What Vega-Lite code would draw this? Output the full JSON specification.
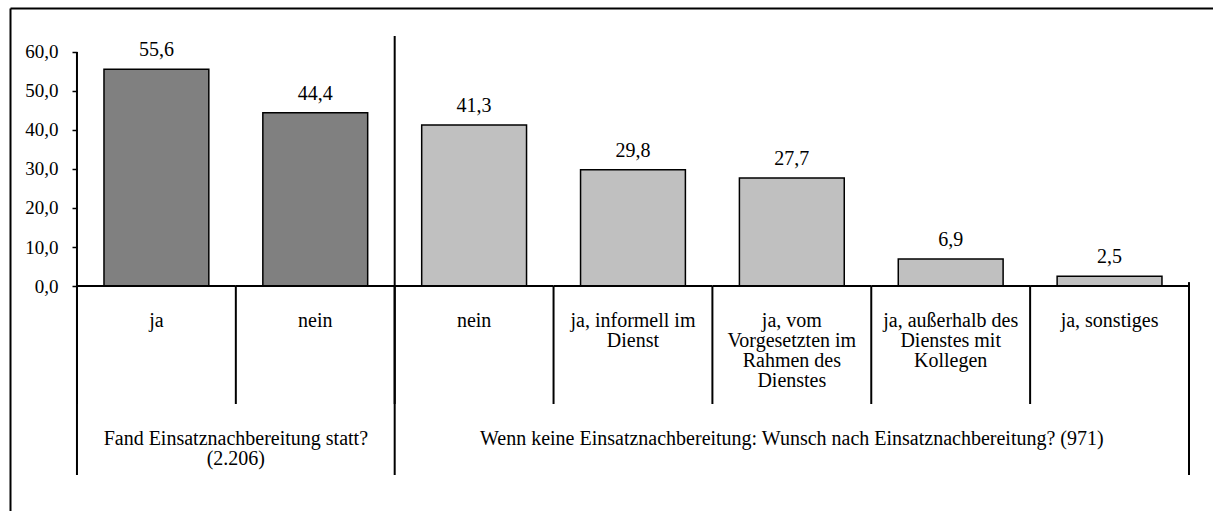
{
  "$schema": "https://vega.github.io/schema/vega-lite/v6.json",
  "width": 1213,
  "height": 511,
  "autosize": {"type": "fit", "contains": "padding"},
  "padding": {"left": 10, "top": 8, "right": 0, "bottom": 0},
  "background": "white",
  "config": {
    "view": {"stroke": null},
    "locale": {"number": {"decimal": ",", "thousands": ".", "grouping": [3], "currency": ["", " €"]}},
    "font": "'Liberation Serif', 'Times New Roman', serif"
  },
  "datasets": {
    "cats": [
      {"key": "g1_ja", "label": "ja", "group": "g1", "value": 55.6},
      {"key": "g1_nein", "label": "nein", "group": "g1", "value": 44.4},
      {"key": "g2_nein", "label": "nein", "group": "g2", "value": 41.3},
      {"key": "g2_inf", "label": "ja, informell im\nDienst", "group": "g2", "value": 29.8},
      {"key": "g2_vom", "label": "ja, vom\nVorgesetzten im\nRahmen des\nDienstes", "group": "g2", "value": 27.7},
      {"key": "g2_aus", "label": "ja, außerhalb des\nDienstes mit\nKollegen", "group": "g2", "value": 6.9},
      {"key": "g2_son", "label": "ja, sonstiges", "group": "g2", "value": 2.5}
    ],
    "groups": [
      {"group": "g1", "anchor": "g1_ja", "label": "Fand Einsatznachbereitung statt?\n(2.206)"},
      {"group": "g2", "anchor": "g2_vom", "label": "Wenn keine Einsatznachbereitung: Wunsch nach Einsatznachbereitung? (971)"}
    ]
  },
  "data": {"name": "cats"},
  "resolve": {"axis": {"y": "independent", "x": "independent"}},
  "layer": [
    {
      "mark": {"type": "bar", "width": {"band": 0.66}, "stroke": "black", "strokeWidth": 1.5},
      "encoding": {
        "x": {"field": "key", "type": "nominal", "sort": null,
              "scale": {"type": "band", "paddingInner": 0, "paddingOuter": 0.2864, "align": 0.736},
              "axis": {"orient": "top", "labels": false, "ticks": false, "domain": true, "domainColor": "black", "domainWidth": 2, "title": null, "grid": false}},
        "y": {"field": "value", "type": "quantitative",
              "scale": {"domain": [-57.69, 71.28], "nice": false, "zero": false},
              "axis": {"offset": -67, "values": [0, 10, 20, 30, 40, 50, 60], "format": ".1f", "domain": false, "grid": false,
                       "ticks": true, "tickSize": 5, "tickColor": "black", "tickWidth": 1.5, "labelPadding": 14,
                       "labelFont": "'Liberation Serif', 'Times New Roman', serif", "labelFontSize": 19, "labelColor": "black", "title": null}},
        "fill": {"field": "group", "type": "nominal", "scale": {"domain": ["g1", "g2"], "range": ["#808080", "#C0C0C0"]}, "legend": null}
      }
    },
    {
      "mark": {"type": "text", "baseline": "alphabetic", "dy": -13, "fontSize": 20, "color": "black", "font": "'Liberation Serif', 'Times New Roman', serif"},
      "encoding": {
        "x": {"field": "key", "type": "nominal", "sort": null, "bandPosition": 0.5, "scale": {"type": "band"}, "axis": null},
        "y": {"field": "value", "type": "quantitative", "axis": null},
        "text": {"field": "value", "type": "quantitative", "format": ".1f"}
      }
    },
    {
      "mark": {"type": "text", "baseline": "alphabetic", "fontSize": 20, "lineHeight": 20, "lineBreak": "\n", "color": "black", "font": "'Liberation Serif', 'Times New Roman', serif"},
      "encoding": {
        "x": {"field": "key", "type": "nominal", "sort": null, "bandPosition": 0.5, "scale": {"type": "band"}, "axis": null},
        "y": {"datum": -10.5, "type": "quantitative", "axis": null},
        "text": {"field": "label"}
      }
    },
    {
      "mark": {"type": "rule", "color": "black", "strokeWidth": 2},
      "encoding": {
        "x": {"field": "key", "type": "nominal", "sort": null, "bandPosition": 0, "scale": {"type": "band"}, "axis": null},
        "y": {"datum": 0, "type": "quantitative", "axis": null},
        "y2": {"datum": -30.26}
      }
    },
    {
      "mark": {"type": "rule", "color": "black", "strokeWidth": 2},
      "encoding": {
        "x": {"field": "key", "type": "nominal", "sort": null, "bandPosition": 0, "scale": {"type": "band"}, "axis": null},
        "x2": {"field": "key", "bandPosition": 1},
        "y": {"datum": 0, "type": "quantitative", "axis": null}
      }
    },
    {
      "transform": [{"filter": "datum.key === 'g1_ja'"}],
      "mark": {"type": "rule", "color": "black", "strokeWidth": 2},
      "encoding": {
        "x": {"field": "key", "type": "nominal", "sort": null, "bandPosition": 0, "scale": {"type": "band"}, "axis": null},
        "y": {"datum": -48.46, "type": "quantitative",
              "axis": {"orient": "left", "offset": 0, "domain": true, "domainColor": "black", "domainWidth": 2, "ticks": false, "labels": false, "grid": false, "title": null}},
        "y2": {"datum": 60}
      }
    },
    {
      "transform": [{"filter": "datum.key === 'g2_nein'"}],
      "mark": {"type": "rule", "color": "black", "strokeWidth": 2},
      "encoding": {
        "x": {"field": "key", "type": "nominal", "sort": null, "bandPosition": 0, "scale": {"type": "band"}, "axis": null},
        "y": {"datum": -48.46, "type": "quantitative", "axis": null},
        "y2": {"datum": 64.1}
      }
    },
    {
      "transform": [{"filter": "datum.key === 'g2_son'"}],
      "mark": {"type": "rule", "color": "black", "strokeWidth": 2},
      "encoding": {
        "x": {"field": "key", "type": "nominal", "sort": null, "bandPosition": 1, "scale": {"type": "band"}, "axis": null},
        "y": {"datum": -48.46, "type": "quantitative", "axis": null},
        "y2": {"datum": 1}
      }
    },
    {
      "data": {"name": "groups"},
      "transform": [{"filter": "datum.group === 'g1'"}],
      "mark": {"type": "text", "baseline": "alphabetic", "fontSize": 20, "lineHeight": 20, "lineBreak": "\n", "color": "black", "font": "'Liberation Serif', 'Times New Roman', serif"},
      "encoding": {
        "x": {"field": "anchor", "type": "nominal", "sort": null, "bandPosition": 1, "scale": {"type": "band"}, "axis": null},
        "y": {"datum": -40.8, "type": "quantitative", "axis": null},
        "text": {"field": "label"}
      }
    },
    {
      "data": {"name": "groups"},
      "transform": [{"filter": "datum.group === 'g2'"}],
      "mark": {"type": "text", "baseline": "alphabetic", "fontSize": 20, "lineHeight": 20, "lineBreak": "\n", "color": "black", "font": "'Liberation Serif', 'Times New Roman', serif"},
      "encoding": {
        "x": {"field": "anchor", "type": "nominal", "sort": null, "bandPosition": 0.5, "scale": {"type": "band"}, "axis": null},
        "y": {"datum": -40.8, "type": "quantitative", "axis": null},
        "text": {"field": "label"}
      }
    }
  ]
}
